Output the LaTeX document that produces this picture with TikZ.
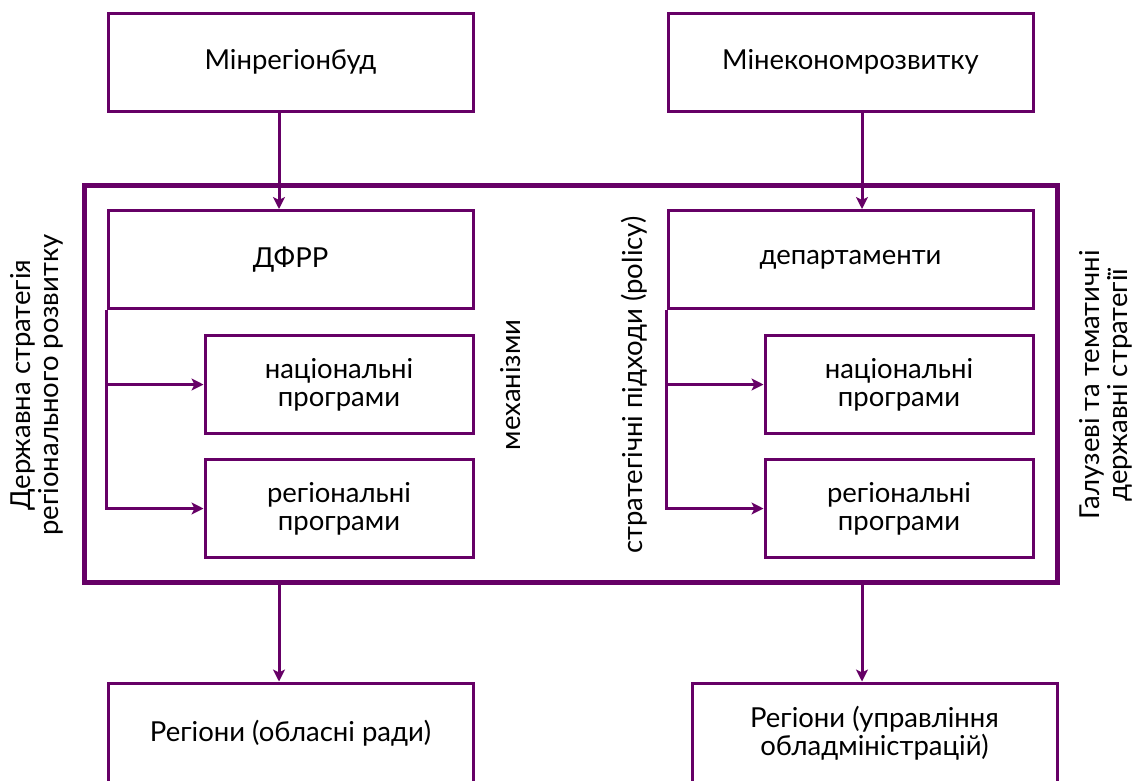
\documentclass[tikz,border=0pt]{standalone}
\usepackage{fontspec}
\setmainfont{Lato}
\usetikzlibrary{arrows.meta,calc}
\definecolor{purp}{RGB}{102,0,102}
\begin{document}
\begin{tikzpicture}[x=1pt,y=-1pt,
  box/.style={draw=purp,line width=3pt,minimum width=365pt,minimum height=98pt,inner sep=0pt,align=center,font=\fontsize{27.5}{28}\selectfont},
  sbox/.style={box,minimum width=268pt},
  frame/.style={draw=purp,line width=5pt,minimum width=973pt,minimum height=397pt,inner sep=0pt},
  arr/.style={draw=purp,line width=3pt,-{Stealth[length=12pt,width=12pt,inset=3pt]}},
  lbl/.style={rotate=90,align=center,font=\fontsize{27.5}{28}\selectfont}]
\useasboundingbox (0,0) rectangle (1138,780);
\clip (0,0) rectangle (1138,780);
\fill[white] (0,0) rectangle (1138,780);
\coordinate (xl) at (279,0);
\coordinate (xr) at (862,0);
\node[box] (mrb) at (290.5,62) {Мінрегіонбуд};
\node[box] (mer) at (850.5,62) {Мінекономрозвитку};
\node[frame] (outer) at (570.5,383.5) {};
\node[box] (dfrr) at (290.5,259.5) {ДФРР};
\node[sbox] (natL) at (339,384.5) {національні\\програми};
\node[sbox] (regL) at (339,508.5) {регіональні\\програми};
\node[box] (dep) at (850.5,259.5) {департаменти};
\node[sbox] (natR) at (899,384.5) {національні\\програми};
\node[sbox] (regR) at (899,508.5) {регіональні\\програми};
\node[box,minimum height=100pt] (botL) at (290.5,733) {Регіони (обласні ради)};
\node[box,minimum height=100pt] (botR) at (874.5,733) {Регіони (управління\\обладміністрацій)};
\node[lbl] (lstrat) at (37,385) {Державна стратегія\\регіонального розвитку};
\node[lbl] (mech) at (511,385) {механізми};
\node[lbl] (pol) at (634,385) {стратегічні підходи (policy)};
\node[lbl] (rstrat) at (1106,385) {Галузеві та тематичні\\державні стратегії};
\draw[arr] (mrb.south -| xl) -- (dfrr.north -| xl);
\draw[arr] (mer.south -| xr) -- (dep.north -| xr);
\draw[arr] (outer.south -| xl) -- (botL.north -| xl);
\draw[arr] (outer.south -| xr) -- (botR.north -| xr);
\draw[arr] (dfrr.south west) |- (regL.west);
\draw[arr] (natL.west -| dfrr.west) -- (natL.west);
\draw[arr] (dep.south west) |- (regR.west);
\draw[arr] (natR.west -| dep.west) -- (natR.west);
\end{tikzpicture}
\end{document}
